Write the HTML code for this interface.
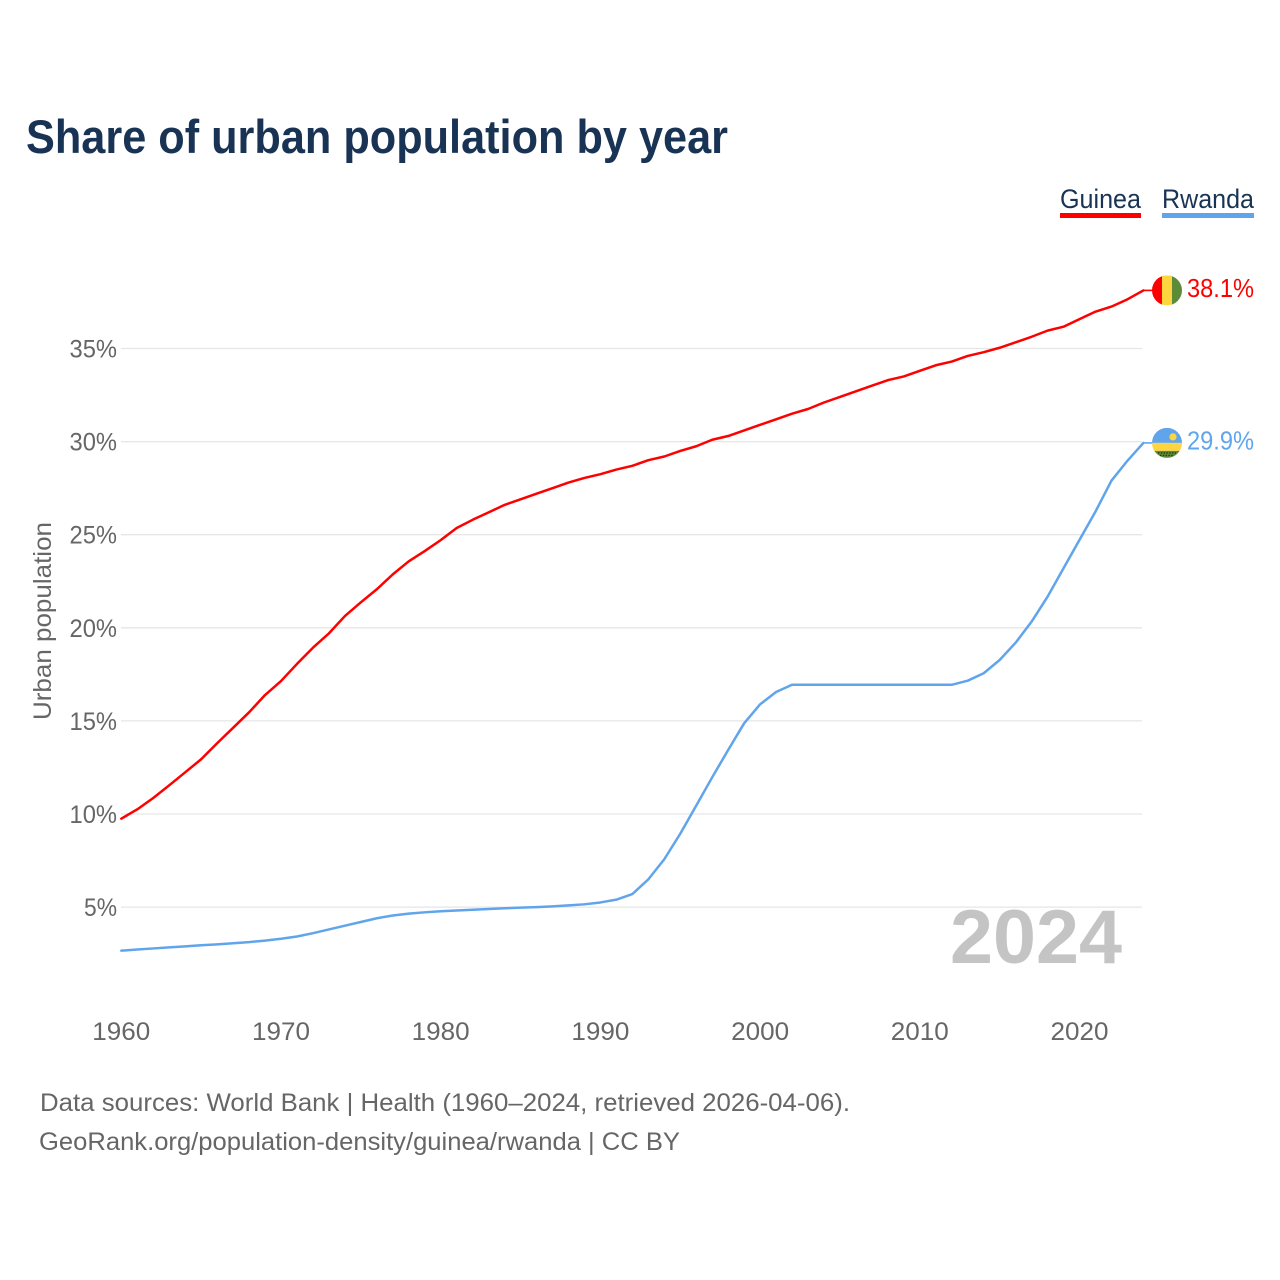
<!DOCTYPE html>
<html lang="en">
<head>
<meta charset="utf-8">
<title>Share of urban population by year</title>
<style>
html,body{margin:0;padding:0;background:#fff;}
svg{display:block;font-family:"Liberation Sans",sans-serif;}
</style>
</head>
<body>
<svg id="chart" xmlns="http://www.w3.org/2000/svg" width="1280" height="1280" viewBox="0 0 1280 1280">
  <rect width="1280" height="1280" fill="#ffffff"/>
  <text x="26" y="153" font-size="47" font-weight="700" fill="#183354" textLength="702" lengthAdjust="spacingAndGlyphs">Share of urban population by year</text>

  <g id="grid"></g>
  <g id="yticks"></g>
  <g id="xticks"></g>
  <text transform="translate(51,621) rotate(-90)" text-anchor="middle" font-size="25" fill="#666666" textLength="198" lengthAdjust="spacingAndGlyphs">Urban population</text>

  <text x="1122" y="963" text-anchor="end" font-size="76" font-weight="700" fill="#c4c4c4" textLength="172" lengthAdjust="spacingAndGlyphs">2024</text>

  <g id="series"></g>

  <g id="legend-guinea">
    <text x="1060" y="208" font-size="27" fill="#183354" textLength="81" lengthAdjust="spacingAndGlyphs">Guinea</text>
    <rect x="1060" y="213" width="81" height="5" fill="#ff0000"/>
  </g>
  <g id="legend-rwanda">
    <text x="1162" y="208" font-size="27" fill="#183354" textLength="92" lengthAdjust="spacingAndGlyphs">Rwanda</text>
    <rect x="1162" y="213" width="92" height="5" fill="#60a5ec"/>
  </g>

  <defs>
    <clipPath id="clip-guinea"><circle cx="0" cy="0" r="15"/></clipPath>
    <clipPath id="clip-rwanda"><circle cx="0" cy="0" r="15"/></clipPath>
  </defs>

  <g id="flag-guinea" clip-path="url(#clip-guinea)">
    <rect x="-15" y="-15" width="10" height="30" fill="#fe0000"/>
    <rect x="-5" y="-15" width="10" height="30" fill="#fdd53f"/>
    <rect x="5" y="-15" width="10" height="30" fill="#5e8b38"/>
  </g>
  <g id="flag-rwanda" clip-path="url(#clip-rwanda)">
    <rect x="-15" y="-15" width="30" height="15" fill="#60a5ec"/>
    <rect x="-15" y="0" width="30" height="8" fill="#fdd53f"/>
    <rect x="-15" y="8" width="30" height="7" fill="#5e8b38"/>
    <circle cx="6" cy="-6" r="3.6" fill="#fdd53f"/>
    <path d="M-9 10h18M-7 12.5h14" stroke="#22351a" stroke-width="1.4" stroke-dasharray="1.4 1.4" fill="none"/>
  </g>

  <text id="value-guinea" x="1187" y="297" font-size="25.5" fill="#ff0000" textLength="67" lengthAdjust="spacingAndGlyphs"></text>
  <text id="value-rwanda" x="1187" y="450" font-size="25.5" fill="#60a5ec" textLength="67" lengthAdjust="spacingAndGlyphs"></text>

  <text x="40" y="1111" font-size="25" fill="#666666" textLength="810" lengthAdjust="spacingAndGlyphs">Data sources: World Bank | Health (1960–2024, retrieved 2026-04-06).</text>
  <text x="39" y="1150" font-size="25" fill="#666666" textLength="641" lengthAdjust="spacingAndGlyphs">GeoRank.org/population-density/guinea/rwanda | CC BY</text>
</svg>
<script>
const startYear = 1960;
const guineaValues = [9.75,10.25,10.86,11.54,12.24,12.94,13.8,14.63,15.46,16.39,17.14,18.06,18.93,19.7,20.63,21.37,22.07,22.87,23.57,24.12,24.71,25.36,25.8,26.2,26.6,26.9,27.2,27.5,27.8,28.05,28.25,28.5,28.7,29.0,29.2,29.5,29.75,30.1,30.3,30.6,30.9,31.2,31.5,31.75,32.1,32.4,32.7,33.0,33.3,33.5,33.8,34.1,34.3,34.6,34.8,35.04,35.33,35.63,35.96,36.17,36.58,36.98,37.25,37.64,38.12];
const rwandaValues = [2.66,2.72,2.78,2.84,2.89,2.95,3.0,3.06,3.12,3.2,3.3,3.42,3.6,3.8,4.0,4.2,4.4,4.55,4.65,4.72,4.78,4.82,4.86,4.9,4.94,4.97,5.0,5.04,5.09,5.15,5.25,5.4,5.7,6.49,7.57,8.94,10.45,11.97,13.44,14.87,15.89,16.55,16.94,16.94,16.94,16.94,16.94,16.94,16.94,16.94,16.94,16.94,16.94,17.16,17.56,18.27,19.2,20.33,21.67,23.2,24.72,26.24,27.9,28.97,29.93];
const yTickValues = [5,10,15,20,25,30,35];
const xTickValues = [1960,1970,1980,1990,2000,2010,2020];
const guineaLabel = "38.1%";
const rwandaLabel = "29.9%";

const SVGNS = "http://www.w3.org/2000/svg";
const xScale = function (year) { return 121.3 + (year - 1960) * 15.97; };
const yScale = function (value) { return 1000.2 - value * 18.62; };
const CONNECTOR_END = 1153;
const PLOT_RIGHT = 1142;

function make(tag, attrs, parent) {
  const el = document.createElementNS(SVGNS, tag);
  Object.keys(attrs).forEach(function (k) { el.setAttribute(k, attrs[k]); });
  parent.appendChild(el);
  return el;
}

const gridGroup = document.getElementById("grid");
const yGroup = document.getElementById("yticks");
const xGroup = document.getElementById("xticks");
const seriesGroup = document.getElementById("series");

yTickValues.forEach(function (v) {
  const y = yScale(v);
  const line = make("line", {x1: 121, x2: PLOT_RIGHT, y1: y, y2: y, stroke: "#e6e6e6", "stroke-width": 1.3}, gridGroup);
  
  
  const label = String(v) + "%";
  const t = make("text", {x: 117, y: yScale(v) + 9, "text-anchor": "end", "font-size": 25, fill: "#666666",
    textLength: (label.length - 1) * 14.5 + 18.5, lengthAdjust: "spacingAndGlyphs"}, yGroup);
  t.textContent = label;
  
  
});

xTickValues.forEach(function (yr) {
  const t = make("text", {x: xScale(yr), y: 1040, "text-anchor": "middle", "font-size": 25, fill: "#666666",
    textLength: 58, lengthAdjust: "spacingAndGlyphs"}, xGroup);
  t.textContent = String(yr);
  
  
});

function drawSeries(values, colour, name) {
  const pts = values.map(function (v, i) { return xScale(startYear + i).toFixed(2) + "," + yScale(v).toFixed(2); });
  const line = make("polyline", {points: pts.join(" "), fill: "none", stroke: colour, "stroke-width": 2.5,
    "stroke-linejoin": "round", "stroke-linecap": "round"}, seriesGroup);
  
  
  const last = values[values.length - 1];
  const lastX = xScale(startYear + values.length - 1);
  const conn = make("line", {x1: lastX, x2: CONNECTOR_END, y1: yScale(last), y2: yScale(last), stroke: colour, "stroke-width": 1.6}, seriesGroup);
  
  
}
drawSeries(guineaValues, "#ff0000", "guinea-line");
drawSeries(rwandaValues, "#60a5ec", "rwanda-line");

function placeEnd(id, values) {
  const y = yScale(values[values.length - 1]);
  document.getElementById(id).setAttribute("transform", "translate(1167," + y.toFixed(2) + ")");
}
placeEnd("flag-guinea", guineaValues);
placeEnd("flag-rwanda", rwandaValues);
const gv = document.getElementById("value-guinea");
gv.textContent = guineaLabel;
gv.setAttribute("y", (yScale(guineaValues[guineaValues.length - 1]) + 6.5).toFixed(2));
const rv = document.getElementById("value-rwanda");
rv.textContent = rwandaLabel;
rv.setAttribute("y", (yScale(rwandaValues[rwandaValues.length - 1]) + 6.5).toFixed(2));
</script>
</body>
</html>
